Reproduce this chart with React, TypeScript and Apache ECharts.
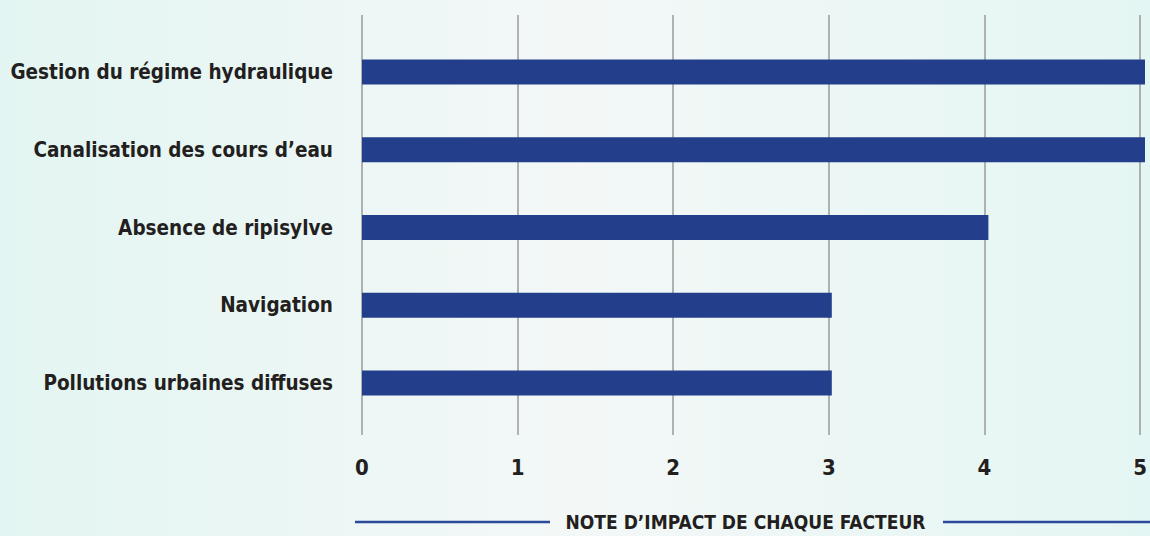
import React, { useEffect, useRef } from "react";
import * as echarts from "echarts";

const categories = [
  "Gestion du régime hydraulique",
  "Canalisation des cours d’eau",
  "Absence de ripisylve",
  "Navigation",
  "Pollutions urbaines diffuses",
];
const values = [5, 5, 4, 3, 3];
const axisMin = 0;
const axisMax = 5;
const axisTitle = "NOTE D’IMPACT DE CHAQUE FACTEUR";

const FONT = "'Liberation Sans Narrow', 'DejaVu Sans Condensed', 'Roboto', sans-serif";

export default function App() {
  const ref = useRef<HTMLDivElement>(null);
  useEffect(() => {
    if (!ref.current) return;
    const chart = echarts.init(ref.current, null, { renderer: "svg" });
    const left = 362;
    const right = 5;
    const W = 1150;
    const mid = (left + (W - right)) / 2;
    chart.setOption({
      animation: false,
      backgroundColor: {
        type: "linear",
        x: 0, y: 0, x2: 1, y2: 0,
        colorStops: [
          { offset: 0, color: "#e3f5f2" },
          { offset: 0.5, color: "#f3f8f7" },
          { offset: 1, color: "#e4f6f3" },
        ],
      },
      textStyle: { fontFamily: FONT },
      grid: [
        { left, right, top: 33, bottom: 114 },
        { left, right, top: 15, bottom: 101 },
      ],
      xAxis: [
        {
          gridIndex: 0, type: "value", min: axisMin, max: axisMax, interval: 1,
          axisLine: { show: false }, axisTick: { show: false },
          axisLabel: { show: false }, splitLine: { show: false },
        },
        {
          gridIndex: 1, type: "value", min: axisMin, max: axisMax, interval: 1,
          axisLine: { show: false }, axisTick: { show: false },
          axisLabel: {
            show: true, margin: 21, color: "#231f20", fontSize: 22,
            fontWeight: "bold", fontFamily: FONT,
          },
          splitLine: { show: true, lineStyle: { color: "#9a9a9a", width: 1.5 } },
        },
      ],
      yAxis: [
        {
          gridIndex: 0, type: "category", data: categories, inverse: true,
          axisLine: { show: false }, axisTick: { show: false },
          axisLabel: {
            margin: 29, color: "#231f20", fontSize: 20.5, fontWeight: "bold", fontFamily: FONT,
          },
        },
        {
          gridIndex: 1, type: "category", data: [""], show: false,
        },
      ],
      series: [
        {
          type: "bar", xAxisIndex: 0, yAxisIndex: 0, data: values,
          barWidth: 25, itemStyle: { color: "#233e8b" }, silent: true,
        },
      ],
      graphic: [
        { type: "line", shape: { x1: 355, y1: 522, x2: 550, y2: 522 }, style: { stroke: "#2b4a9b", lineWidth: 2.5 } },
        { type: "line", shape: { x1: 943, y1: 522, x2: 1150, y2: 522 }, style: { stroke: "#2b4a9b", lineWidth: 2.5 } },
        {
          type: "text", x: mid - 8, y: 522,
          style: {
            text: axisTitle, fill: "#231f20", font: `bold 19px ${FONT}`,
            align: "center", verticalAlign: "middle",
          },
        },
      ],
    });
    return () => chart.dispose();
  }, []);
  return <div ref={ref} style={{ position: "fixed", left: 0, top: 0, width: 1150, height: 536 }} />;
}
